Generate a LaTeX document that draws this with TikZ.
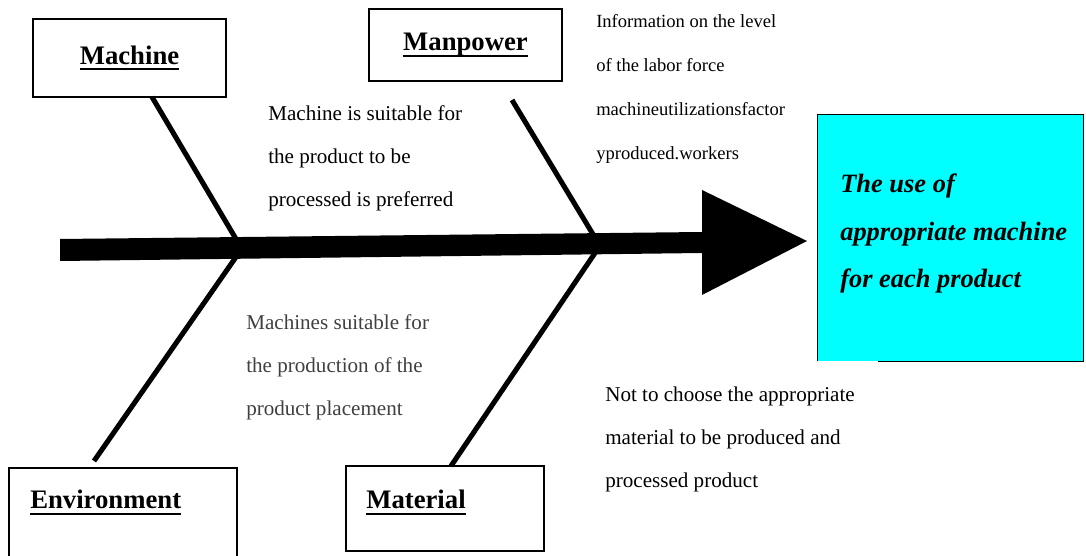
\documentclass[tikz,border=0pt]{standalone}
\usepackage{fontspec}
\setmainfont{Liberation Serif}
\usepackage{xcolor}
\definecolor{effectcyan}{RGB}{0,255,255}
\definecolor{notegray}{RGB}{64,64,64}
\newcommand{\causeul}[1]{\setbox0\hbox{#1}\leavevmode\rlap{\rule[-4.2pt]{\wd0}{1.4pt}}\box0}

\begin{document}
\begin{tikzpicture}[
  x=0.025cm, y=-0.025cm,
  cause/.style={draw, line width=1.4pt, inner sep=0pt, font=\fontsize{19}{23}\selectfont\bfseries},
  head/.style={anchor=base west, inner sep=0pt, font=\fontsize{19}{23}\selectfont\bfseries},
  note/.style={anchor=base west, align=left, inner sep=0pt, font=\fontsize{15}{30.6}\selectfont},
  bone/.style={line width=3.6pt}
]
\useasboundingbox (0,0) rectangle (1086,556);

% cause boxes
\node[cause, minimum width=4.825cm, minimum height=1.95cm] (mach) at (129.5,58) {\causeul{Machine}};
\node[cause, minimum width=4.825cm, minimum height=1.8cm] (man) at (465.5,45) {\causeul{Manpower}};
\node[minimum width=5.7cm, minimum height=2.2cm, inner sep=0pt] (env) at (123,512) {};
\draw[line width=1.4pt] (env.south west) -- (env.north west) -- (env.north east) -- (env.south east);
\node[cause, minimum width=4.95cm, minimum height=2.125cm] (mat) at (445,508.5) {};
\node[head] (envlabel) at (30,509) {\causeul{Environment}};
\node[head] (matlabel) at (366,509) {\causeul{Material}};

% effect box
\node[fill=effectcyan, minimum width=6.625cm, minimum height=6.15cm, inner sep=0pt] (effect) at (950.5,238) {};
\draw[line width=1pt] (effect.south west) -- (effect.north west) -- (effect.north east) -- (effect.south east) -- ++(-205,0);
% base anchor of a multi-line node sits on its last line
\node[note, font=\fontsize{18.8}{34.1}\selectfont\bfseries\itshape] (goal) at (840,288) {The use of\\appropriate machine\\for each product};

% spine
\fill (60,239) -- (702,232) -- (702,190) -- (807,241) -- (702,295) -- (702,253) -- (60,261) -- cycle;
\coordinate (machjoint) at (236,239);
\coordinate (envjoint) at (236,257);
\coordinate (manjoint) at (594,236);
\coordinate (matjoint) at (595,253);
\coordinate (machfoot) at (152,97);
\coordinate (manfoot) at (512,100);
\coordinate (envtop) at (94,461);
\coordinate (mattop) at (451,466);

% bones
\draw[bone] (machfoot) -- (machjoint);
\draw[bone] (manfoot) -- (manjoint);
\draw[bone] (envjoint) -- (envtop);
\draw[bone] (matjoint) -- (mattop);

% notes
\node[note] (suitnote) at (268,207) {Machine is suitable for\\the product to be\\processed is preferred};
\node[note, font=\fontsize{13.2}{31.3}\selectfont] (labornote) at (596,160) {Information on the level\\of the labor force\\machineutilizationsfactor\\yproduced.workers};
\node[note, text=notegray] (placenote) at (246,416) {Machines suitable for\\the production of the\\product placement};
\node[note] (matnote) at (605,488) {Not to choose the appropriate\\material to be produced and\\processed product};
\end{tikzpicture}
\end{document}
